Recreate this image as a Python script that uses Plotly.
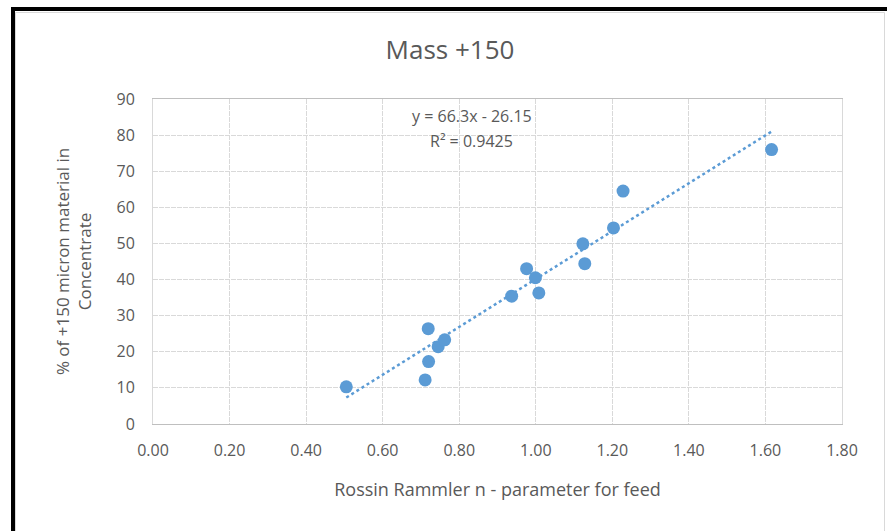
import plotly.graph_objects as go

# Data
rr_n = [0.505, 0.711, 0.720, 0.719, 0.745, 0.762, 0.937, 0.976, 0.999, 1.008,
        1.123, 1.128, 1.203, 1.228, 1.616]
pct_plus150 = [10.3, 12.2, 17.3, 26.4, 21.4, 23.3, 35.4, 43.0, 40.5, 36.3,
               49.9, 44.4, 54.3, 64.5, 76.0]
trend_slope = 66.3
trend_intercept = -26.15
r_squared = 0.9425
x_ticks = [0.0, 0.2, 0.4, 0.6, 0.8, 1.0, 1.2, 1.4, 1.6, 1.8]
y_ticks = [0, 10, 20, 30, 40, 50, 60, 70, 80, 90]

FONT = "Open Sans, Noto Sans, sans-serif"
GRAY = "#595959"
BLUE = "#5B9BD5"

x0, x1 = min(rr_n), max(rr_n)
trend_x = [x0, x1]
trend_y = [trend_slope * v + trend_intercept for v in trend_x]

W, H = 887, 531
L, R, T, B = 153, 45, 99, 107
PW, PH = W - L - R, H - T - B


def px(xp):
    return (xp - L) / PW


def py(yp):
    return (H - B - yp) / PH


fig = go.Figure()
fig.add_trace(go.Scatter(x=trend_x, y=trend_y, mode="lines",
                         line=dict(color=BLUE, width=2.5, dash="dot"),
                         showlegend=False, hoverinfo="skip"))
fig.add_trace(go.Scatter(x=rr_n, y=pct_plus150, mode="markers",
                         marker=dict(color=BLUE, size=13),
                         showlegend=False))

fig.update_layout(
    width=W, height=H,
    margin=dict(l=L, r=R, t=T, b=B),
    paper_bgcolor="white", plot_bgcolor="white",
    font=dict(family=FONT, color=GRAY, size=16),
    title=dict(text="Mass +150", x=450 / W, xanchor="center", y=1 - 50 / H, yanchor="middle",
               font=dict(size=26, color=GRAY, family=FONT)),
    xaxis=dict(range=[0, 1.8], tickvals=x_ticks,
               ticktext=[f"{v:.2f}" for v in x_ticks],
               showgrid=True, gridcolor="#d9d9d9", griddash="5px,1px", gridwidth=1,
               zeroline=False, showline=True, linecolor="#bfbfbf", mirror=True,
               ticks="", ticklabelstandoff=12,
               tickfont=dict(size=16, color=GRAY, family=FONT),
               title=dict(text="Rossin Rammler n - parameter for feed",
                          font=dict(size=18, color=GRAY, family=FONT), standoff=23)),
    yaxis=dict(range=[0, 90], tickvals=y_ticks,
               showgrid=True, gridcolor="#d9d9d9", griddash="5px,1px", gridwidth=1,
               zeroline=False, showline=True, linecolor="#d9d9d9", mirror=True,
               ticks="", ticklabelstandoff=14,
               tickfont=dict(size=16, color=GRAY, family=FONT),
               title=dict(text="% of +150 micron material in<br>Concentrate",
                          font=dict(size=17, color=GRAY, family=FONT), standoff=20)),
)

fig.add_annotation(x=0.833, y=85.4, xref="x", yref="y",
                   text=f"y = {trend_slope}x - {abs(trend_intercept)}",
                   showarrow=False, font=dict(size=16, color=GRAY, family=FONT),
                   xanchor="center", yanchor="middle")
fig.add_annotation(x=0.833, y=78.3, xref="x", yref="y",
                   text=f"R² = {r_squared}",
                   showarrow=False, font=dict(size=16, color=GRAY, family=FONT),
                   xanchor="center", yanchor="middle")

# chart frame: light gray border plus black outer edge on top/left
fig.add_shape(type="rect", xref="paper", yref="paper",
              x0=px(15.5), x1=px(884.5), y0=py(545), y1=py(12.5),
              line=dict(color="#d9d9d9", width=1), layer="below")
fig.add_shape(type="line", xref="paper", yref="paper",
              x0=px(11), x1=px(890), y0=py(9), y1=py(9),
              line=dict(color="black", width=4))
fig.add_shape(type="line", xref="paper", yref="paper",
              x0=px(13), x1=px(13), y0=py(7), y1=py(540),
              line=dict(color="black", width=4))
fig.write_html("out.html")
